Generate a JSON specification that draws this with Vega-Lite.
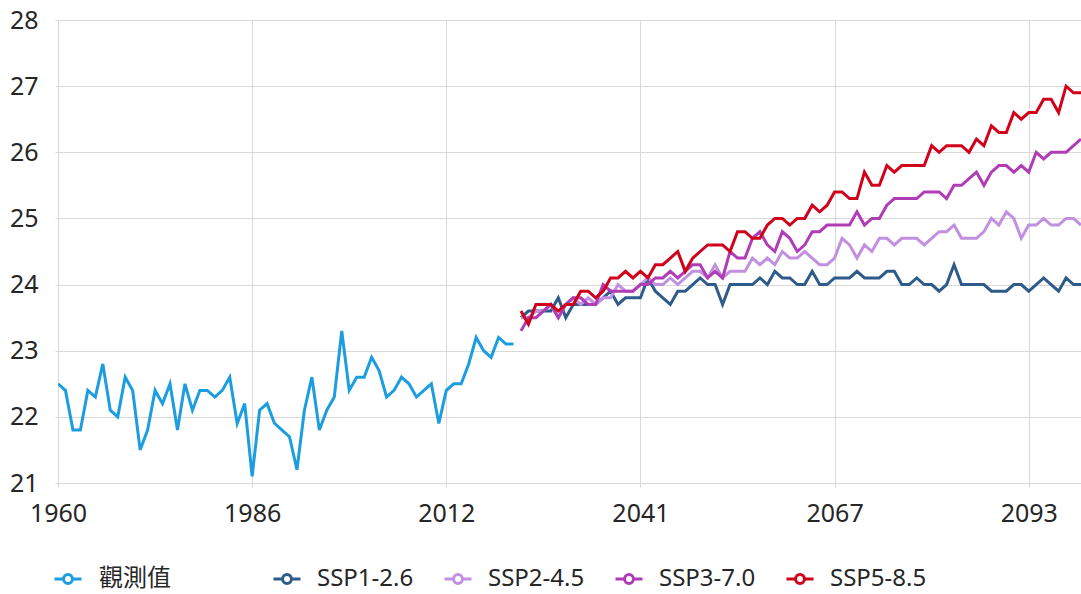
{
  "$schema": "https://vega.github.io/schema/vega-lite/v6.json",
  "autosize": "none",
  "padding": {"left": 58, "top": 20, "right": 0, "bottom": 111},
  "width": 1023,
  "height": 463,
  "background": "white",
  "config": {
    "view": {"stroke": null},
    "font": "Noto Sans, Noto Sans CJK TC",
    "axis": {
      "labelFont": "Noto Sans, Noto Sans CJK TC",
      "labelFontSize": 25,
      "labelColor": "#262626",
      "gridColor": "#d9d9d9",
      "domainColor": "#d9d9d9",
      "tickColor": "#d9d9d9",
      "title": null
    }
  },
  "datasets": {
    "obs": [
      {"year":1960,"series":"觀測值","value":22.5},{"year":1961,"series":"觀測值","value":22.4},{"year":1962,"series":"觀測值","value":21.8},{"year":1963,"series":"觀測值","value":21.8},{"year":1964,"series":"觀測值","value":22.4},{"year":1965,"series":"觀測值","value":22.3},{"year":1966,"series":"觀測值","value":22.8},{"year":1967,"series":"觀測值","value":22.1},{"year":1968,"series":"觀測值","value":22.0},{"year":1969,"series":"觀測值","value":22.6},
      {"year":1970,"series":"觀測值","value":22.4},{"year":1971,"series":"觀測值","value":21.5},{"year":1972,"series":"觀測值","value":21.8},{"year":1973,"series":"觀測值","value":22.4},{"year":1974,"series":"觀測值","value":22.2},{"year":1975,"series":"觀測值","value":22.5},{"year":1976,"series":"觀測值","value":21.8},{"year":1977,"series":"觀測值","value":22.5},{"year":1978,"series":"觀測值","value":22.1},{"year":1979,"series":"觀測值","value":22.4},
      {"year":1980,"series":"觀測值","value":22.4},{"year":1981,"series":"觀測值","value":22.3},{"year":1982,"series":"觀測值","value":22.4},{"year":1983,"series":"觀測值","value":22.6},{"year":1984,"series":"觀測值","value":21.9},{"year":1985,"series":"觀測值","value":22.2},{"year":1986,"series":"觀測值","value":21.1},{"year":1987,"series":"觀測值","value":22.1},{"year":1988,"series":"觀測值","value":22.2},{"year":1989,"series":"觀測值","value":21.9},
      {"year":1990,"series":"觀測值","value":21.8},{"year":1991,"series":"觀測值","value":21.7},{"year":1992,"series":"觀測值","value":21.2},{"year":1993,"series":"觀測值","value":22.1},{"year":1994,"series":"觀測值","value":22.6},{"year":1995,"series":"觀測值","value":21.8},{"year":1996,"series":"觀測值","value":22.1},{"year":1997,"series":"觀測值","value":22.3},{"year":1998,"series":"觀測值","value":23.3},{"year":1999,"series":"觀測值","value":22.4},
      {"year":2000,"series":"觀測值","value":22.6},{"year":2001,"series":"觀測值","value":22.6},{"year":2002,"series":"觀測值","value":22.9},{"year":2003,"series":"觀測值","value":22.7},{"year":2004,"series":"觀測值","value":22.3},{"year":2005,"series":"觀測值","value":22.4},{"year":2006,"series":"觀測值","value":22.6},{"year":2007,"series":"觀測值","value":22.5},{"year":2008,"series":"觀測值","value":22.3},{"year":2009,"series":"觀測值","value":22.4},
      {"year":2010,"series":"觀測值","value":22.5},{"year":2011,"series":"觀測值","value":21.9},{"year":2012,"series":"觀測值","value":22.4},{"year":2013,"series":"觀測值","value":22.5},{"year":2014,"series":"觀測值","value":22.5},{"year":2015,"series":"觀測值","value":22.8},{"year":2016,"series":"觀測值","value":23.2},{"year":2017,"series":"觀測值","value":23.0},{"year":2018,"series":"觀測值","value":22.9},{"year":2019,"series":"觀測值","value":23.2},
      {"year":2020,"series":"觀測值","value":23.1},{"year":2021,"series":"觀測值","value":23.1}
    ],
    "proj": [
      {"year":2025,"series":"SSP1-2.6","value":23.5},{"year":2026,"series":"SSP1-2.6","value":23.6},{"year":2027,"series":"SSP1-2.6","value":23.6},{"year":2028,"series":"SSP1-2.6","value":23.6},{"year":2029,"series":"SSP1-2.6","value":23.6},{"year":2030,"series":"SSP1-2.6","value":23.8},{"year":2031,"series":"SSP1-2.6","value":23.5},{"year":2032,"series":"SSP1-2.6","value":23.7},{"year":2033,"series":"SSP1-2.6","value":23.7},{"year":2034,"series":"SSP1-2.6","value":23.7},
      {"year":2035,"series":"SSP1-2.6","value":23.7},{"year":2036,"series":"SSP1-2.6","value":23.8},{"year":2037,"series":"SSP1-2.6","value":23.9},{"year":2038,"series":"SSP1-2.6","value":23.7},{"year":2039,"series":"SSP1-2.6","value":23.8},{"year":2040,"series":"SSP1-2.6","value":23.8},{"year":2041,"series":"SSP1-2.6","value":23.8},{"year":2042,"series":"SSP1-2.6","value":24.1},{"year":2043,"series":"SSP1-2.6","value":23.9},{"year":2044,"series":"SSP1-2.6","value":23.8},
      {"year":2045,"series":"SSP1-2.6","value":23.7},{"year":2046,"series":"SSP1-2.6","value":23.9},{"year":2047,"series":"SSP1-2.6","value":23.9},{"year":2048,"series":"SSP1-2.6","value":24.0},{"year":2049,"series":"SSP1-2.6","value":24.1},{"year":2050,"series":"SSP1-2.6","value":24.0},{"year":2051,"series":"SSP1-2.6","value":24.0},{"year":2052,"series":"SSP1-2.6","value":23.7},{"year":2053,"series":"SSP1-2.6","value":24.0},{"year":2054,"series":"SSP1-2.6","value":24.0},
      {"year":2055,"series":"SSP1-2.6","value":24.0},{"year":2056,"series":"SSP1-2.6","value":24.0},{"year":2057,"series":"SSP1-2.6","value":24.1},{"year":2058,"series":"SSP1-2.6","value":24.0},{"year":2059,"series":"SSP1-2.6","value":24.2},{"year":2060,"series":"SSP1-2.6","value":24.1},{"year":2061,"series":"SSP1-2.6","value":24.1},{"year":2062,"series":"SSP1-2.6","value":24.0},{"year":2063,"series":"SSP1-2.6","value":24.0},{"year":2064,"series":"SSP1-2.6","value":24.2},
      {"year":2065,"series":"SSP1-2.6","value":24.0},{"year":2066,"series":"SSP1-2.6","value":24.0},{"year":2067,"series":"SSP1-2.6","value":24.1},{"year":2068,"series":"SSP1-2.6","value":24.1},{"year":2069,"series":"SSP1-2.6","value":24.1},{"year":2070,"series":"SSP1-2.6","value":24.2},{"year":2071,"series":"SSP1-2.6","value":24.1},{"year":2072,"series":"SSP1-2.6","value":24.1},{"year":2073,"series":"SSP1-2.6","value":24.1},{"year":2074,"series":"SSP1-2.6","value":24.2},
      {"year":2075,"series":"SSP1-2.6","value":24.2},{"year":2076,"series":"SSP1-2.6","value":24.0},{"year":2077,"series":"SSP1-2.6","value":24.0},{"year":2078,"series":"SSP1-2.6","value":24.1},{"year":2079,"series":"SSP1-2.6","value":24.0},{"year":2080,"series":"SSP1-2.6","value":24.0},{"year":2081,"series":"SSP1-2.6","value":23.9},{"year":2082,"series":"SSP1-2.6","value":24.0},{"year":2083,"series":"SSP1-2.6","value":24.3},{"year":2084,"series":"SSP1-2.6","value":24.0},
      {"year":2085,"series":"SSP1-2.6","value":24.0},{"year":2086,"series":"SSP1-2.6","value":24.0},{"year":2087,"series":"SSP1-2.6","value":24.0},{"year":2088,"series":"SSP1-2.6","value":23.9},{"year":2089,"series":"SSP1-2.6","value":23.9},{"year":2090,"series":"SSP1-2.6","value":23.9},{"year":2091,"series":"SSP1-2.6","value":24.0},{"year":2092,"series":"SSP1-2.6","value":24.0},{"year":2093,"series":"SSP1-2.6","value":23.9},{"year":2094,"series":"SSP1-2.6","value":24.0},
      {"year":2095,"series":"SSP1-2.6","value":24.1},{"year":2096,"series":"SSP1-2.6","value":24.0},{"year":2097,"series":"SSP1-2.6","value":23.9},{"year":2098,"series":"SSP1-2.6","value":24.1},{"year":2099,"series":"SSP1-2.6","value":24.0},{"year":2100,"series":"SSP1-2.6","value":24.0},

      {"year":2025,"series":"SSP2-4.5","value":23.5},{"year":2026,"series":"SSP2-4.5","value":23.5},{"year":2027,"series":"SSP2-4.5","value":23.6},{"year":2028,"series":"SSP2-4.5","value":23.6},{"year":2029,"series":"SSP2-4.5","value":23.7},{"year":2030,"series":"SSP2-4.5","value":23.5},{"year":2031,"series":"SSP2-4.5","value":23.7},{"year":2032,"series":"SSP2-4.5","value":23.8},{"year":2033,"series":"SSP2-4.5","value":23.7},{"year":2034,"series":"SSP2-4.5","value":23.8},
      {"year":2035,"series":"SSP2-4.5","value":23.7},{"year":2036,"series":"SSP2-4.5","value":23.8},{"year":2037,"series":"SSP2-4.5","value":23.8},{"year":2038,"series":"SSP2-4.5","value":24.0},{"year":2039,"series":"SSP2-4.5","value":23.9},{"year":2040,"series":"SSP2-4.5","value":23.9},{"year":2041,"series":"SSP2-4.5","value":24.0},{"year":2042,"series":"SSP2-4.5","value":24.1},{"year":2043,"series":"SSP2-4.5","value":24.0},{"year":2044,"series":"SSP2-4.5","value":24.0},
      {"year":2045,"series":"SSP2-4.5","value":24.1},{"year":2046,"series":"SSP2-4.5","value":24.0},{"year":2047,"series":"SSP2-4.5","value":24.1},{"year":2048,"series":"SSP2-4.5","value":24.2},{"year":2049,"series":"SSP2-4.5","value":24.2},{"year":2050,"series":"SSP2-4.5","value":24.1},{"year":2051,"series":"SSP2-4.5","value":24.3},{"year":2052,"series":"SSP2-4.5","value":24.1},{"year":2053,"series":"SSP2-4.5","value":24.2},{"year":2054,"series":"SSP2-4.5","value":24.2},
      {"year":2055,"series":"SSP2-4.5","value":24.2},{"year":2056,"series":"SSP2-4.5","value":24.4},{"year":2057,"series":"SSP2-4.5","value":24.3},{"year":2058,"series":"SSP2-4.5","value":24.4},{"year":2059,"series":"SSP2-4.5","value":24.3},{"year":2060,"series":"SSP2-4.5","value":24.5},{"year":2061,"series":"SSP2-4.5","value":24.4},{"year":2062,"series":"SSP2-4.5","value":24.4},{"year":2063,"series":"SSP2-4.5","value":24.5},{"year":2064,"series":"SSP2-4.5","value":24.4},
      {"year":2065,"series":"SSP2-4.5","value":24.3},{"year":2066,"series":"SSP2-4.5","value":24.3},{"year":2067,"series":"SSP2-4.5","value":24.4},{"year":2068,"series":"SSP2-4.5","value":24.7},{"year":2069,"series":"SSP2-4.5","value":24.6},{"year":2070,"series":"SSP2-4.5","value":24.4},{"year":2071,"series":"SSP2-4.5","value":24.6},{"year":2072,"series":"SSP2-4.5","value":24.5},{"year":2073,"series":"SSP2-4.5","value":24.7},{"year":2074,"series":"SSP2-4.5","value":24.7},
      {"year":2075,"series":"SSP2-4.5","value":24.6},{"year":2076,"series":"SSP2-4.5","value":24.7},{"year":2077,"series":"SSP2-4.5","value":24.7},{"year":2078,"series":"SSP2-4.5","value":24.7},{"year":2079,"series":"SSP2-4.5","value":24.6},{"year":2080,"series":"SSP2-4.5","value":24.7},{"year":2081,"series":"SSP2-4.5","value":24.8},{"year":2082,"series":"SSP2-4.5","value":24.8},{"year":2083,"series":"SSP2-4.5","value":24.9},{"year":2084,"series":"SSP2-4.5","value":24.7},
      {"year":2085,"series":"SSP2-4.5","value":24.7},{"year":2086,"series":"SSP2-4.5","value":24.7},{"year":2087,"series":"SSP2-4.5","value":24.8},{"year":2088,"series":"SSP2-4.5","value":25.0},{"year":2089,"series":"SSP2-4.5","value":24.9},{"year":2090,"series":"SSP2-4.5","value":25.1},{"year":2091,"series":"SSP2-4.5","value":25.0},{"year":2092,"series":"SSP2-4.5","value":24.7},{"year":2093,"series":"SSP2-4.5","value":24.9},{"year":2094,"series":"SSP2-4.5","value":24.9},
      {"year":2095,"series":"SSP2-4.5","value":25.0},{"year":2096,"series":"SSP2-4.5","value":24.9},{"year":2097,"series":"SSP2-4.5","value":24.9},{"year":2098,"series":"SSP2-4.5","value":25.0},{"year":2099,"series":"SSP2-4.5","value":25.0},{"year":2100,"series":"SSP2-4.5","value":24.9},

      {"year":2025,"series":"SSP3-7.0","value":23.3},{"year":2026,"series":"SSP3-7.0","value":23.5},{"year":2027,"series":"SSP3-7.0","value":23.5},{"year":2028,"series":"SSP3-7.0","value":23.6},{"year":2029,"series":"SSP3-7.0","value":23.7},{"year":2030,"series":"SSP3-7.0","value":23.5},{"year":2031,"series":"SSP3-7.0","value":23.7},{"year":2032,"series":"SSP3-7.0","value":23.8},{"year":2033,"series":"SSP3-7.0","value":23.8},{"year":2034,"series":"SSP3-7.0","value":23.7},
      {"year":2035,"series":"SSP3-7.0","value":23.7},{"year":2036,"series":"SSP3-7.0","value":24.0},{"year":2037,"series":"SSP3-7.0","value":23.9},{"year":2038,"series":"SSP3-7.0","value":23.9},{"year":2039,"series":"SSP3-7.0","value":23.9},{"year":2040,"series":"SSP3-7.0","value":23.9},{"year":2041,"series":"SSP3-7.0","value":24.0},{"year":2042,"series":"SSP3-7.0","value":24.0},{"year":2043,"series":"SSP3-7.0","value":24.1},{"year":2044,"series":"SSP3-7.0","value":24.1},
      {"year":2045,"series":"SSP3-7.0","value":24.2},{"year":2046,"series":"SSP3-7.0","value":24.1},{"year":2047,"series":"SSP3-7.0","value":24.2},{"year":2048,"series":"SSP3-7.0","value":24.3},{"year":2049,"series":"SSP3-7.0","value":24.3},{"year":2050,"series":"SSP3-7.0","value":24.1},{"year":2051,"series":"SSP3-7.0","value":24.2},{"year":2052,"series":"SSP3-7.0","value":24.1},{"year":2053,"series":"SSP3-7.0","value":24.5},{"year":2054,"series":"SSP3-7.0","value":24.4},
      {"year":2055,"series":"SSP3-7.0","value":24.4},{"year":2056,"series":"SSP3-7.0","value":24.7},{"year":2057,"series":"SSP3-7.0","value":24.8},{"year":2058,"series":"SSP3-7.0","value":24.6},{"year":2059,"series":"SSP3-7.0","value":24.5},{"year":2060,"series":"SSP3-7.0","value":24.8},{"year":2061,"series":"SSP3-7.0","value":24.7},{"year":2062,"series":"SSP3-7.0","value":24.5},{"year":2063,"series":"SSP3-7.0","value":24.6},{"year":2064,"series":"SSP3-7.0","value":24.8},
      {"year":2065,"series":"SSP3-7.0","value":24.8},{"year":2066,"series":"SSP3-7.0","value":24.9},{"year":2067,"series":"SSP3-7.0","value":24.9},{"year":2068,"series":"SSP3-7.0","value":24.9},{"year":2069,"series":"SSP3-7.0","value":24.9},{"year":2070,"series":"SSP3-7.0","value":25.1},{"year":2071,"series":"SSP3-7.0","value":24.9},{"year":2072,"series":"SSP3-7.0","value":25.0},{"year":2073,"series":"SSP3-7.0","value":25.0},{"year":2074,"series":"SSP3-7.0","value":25.2},
      {"year":2075,"series":"SSP3-7.0","value":25.3},{"year":2076,"series":"SSP3-7.0","value":25.3},{"year":2077,"series":"SSP3-7.0","value":25.3},{"year":2078,"series":"SSP3-7.0","value":25.3},{"year":2079,"series":"SSP3-7.0","value":25.4},{"year":2080,"series":"SSP3-7.0","value":25.4},{"year":2081,"series":"SSP3-7.0","value":25.4},{"year":2082,"series":"SSP3-7.0","value":25.3},{"year":2083,"series":"SSP3-7.0","value":25.5},{"year":2084,"series":"SSP3-7.0","value":25.5},
      {"year":2085,"series":"SSP3-7.0","value":25.6},{"year":2086,"series":"SSP3-7.0","value":25.7},{"year":2087,"series":"SSP3-7.0","value":25.5},{"year":2088,"series":"SSP3-7.0","value":25.7},{"year":2089,"series":"SSP3-7.0","value":25.8},{"year":2090,"series":"SSP3-7.0","value":25.8},{"year":2091,"series":"SSP3-7.0","value":25.7},{"year":2092,"series":"SSP3-7.0","value":25.8},{"year":2093,"series":"SSP3-7.0","value":25.7},{"year":2094,"series":"SSP3-7.0","value":26.0},
      {"year":2095,"series":"SSP3-7.0","value":25.9},{"year":2096,"series":"SSP3-7.0","value":26.0},{"year":2097,"series":"SSP3-7.0","value":26.0},{"year":2098,"series":"SSP3-7.0","value":26.0},{"year":2099,"series":"SSP3-7.0","value":26.1},{"year":2100,"series":"SSP3-7.0","value":26.2},

      {"year":2025,"series":"SSP5-8.5","value":23.6},{"year":2026,"series":"SSP5-8.5","value":23.4},{"year":2027,"series":"SSP5-8.5","value":23.7},{"year":2028,"series":"SSP5-8.5","value":23.7},{"year":2029,"series":"SSP5-8.5","value":23.7},{"year":2030,"series":"SSP5-8.5","value":23.6},{"year":2031,"series":"SSP5-8.5","value":23.7},{"year":2032,"series":"SSP5-8.5","value":23.7},{"year":2033,"series":"SSP5-8.5","value":23.9},{"year":2034,"series":"SSP5-8.5","value":23.9},
      {"year":2035,"series":"SSP5-8.5","value":23.8},{"year":2036,"series":"SSP5-8.5","value":23.9},{"year":2037,"series":"SSP5-8.5","value":24.1},{"year":2038,"series":"SSP5-8.5","value":24.1},{"year":2039,"series":"SSP5-8.5","value":24.2},{"year":2040,"series":"SSP5-8.5","value":24.1},{"year":2041,"series":"SSP5-8.5","value":24.2},{"year":2042,"series":"SSP5-8.5","value":24.1},{"year":2043,"series":"SSP5-8.5","value":24.3},{"year":2044,"series":"SSP5-8.5","value":24.3},
      {"year":2045,"series":"SSP5-8.5","value":24.4},{"year":2046,"series":"SSP5-8.5","value":24.5},{"year":2047,"series":"SSP5-8.5","value":24.2},{"year":2048,"series":"SSP5-8.5","value":24.4},{"year":2049,"series":"SSP5-8.5","value":24.5},{"year":2050,"series":"SSP5-8.5","value":24.6},{"year":2051,"series":"SSP5-8.5","value":24.6},{"year":2052,"series":"SSP5-8.5","value":24.6},{"year":2053,"series":"SSP5-8.5","value":24.5},{"year":2054,"series":"SSP5-8.5","value":24.8},
      {"year":2055,"series":"SSP5-8.5","value":24.8},{"year":2056,"series":"SSP5-8.5","value":24.7},{"year":2057,"series":"SSP5-8.5","value":24.7},{"year":2058,"series":"SSP5-8.5","value":24.9},{"year":2059,"series":"SSP5-8.5","value":25.0},{"year":2060,"series":"SSP5-8.5","value":25.0},{"year":2061,"series":"SSP5-8.5","value":24.9},{"year":2062,"series":"SSP5-8.5","value":25.0},{"year":2063,"series":"SSP5-8.5","value":25.0},{"year":2064,"series":"SSP5-8.5","value":25.2},
      {"year":2065,"series":"SSP5-8.5","value":25.1},{"year":2066,"series":"SSP5-8.5","value":25.2},{"year":2067,"series":"SSP5-8.5","value":25.4},{"year":2068,"series":"SSP5-8.5","value":25.4},{"year":2069,"series":"SSP5-8.5","value":25.3},{"year":2070,"series":"SSP5-8.5","value":25.3},{"year":2071,"series":"SSP5-8.5","value":25.7},{"year":2072,"series":"SSP5-8.5","value":25.5},{"year":2073,"series":"SSP5-8.5","value":25.5},{"year":2074,"series":"SSP5-8.5","value":25.8},
      {"year":2075,"series":"SSP5-8.5","value":25.7},{"year":2076,"series":"SSP5-8.5","value":25.8},{"year":2077,"series":"SSP5-8.5","value":25.8},{"year":2078,"series":"SSP5-8.5","value":25.8},{"year":2079,"series":"SSP5-8.5","value":25.8},{"year":2080,"series":"SSP5-8.5","value":26.1},{"year":2081,"series":"SSP5-8.5","value":26.0},{"year":2082,"series":"SSP5-8.5","value":26.1},{"year":2083,"series":"SSP5-8.5","value":26.1},{"year":2084,"series":"SSP5-8.5","value":26.1},
      {"year":2085,"series":"SSP5-8.5","value":26.0},{"year":2086,"series":"SSP5-8.5","value":26.2},{"year":2087,"series":"SSP5-8.5","value":26.1},{"year":2088,"series":"SSP5-8.5","value":26.4},{"year":2089,"series":"SSP5-8.5","value":26.3},{"year":2090,"series":"SSP5-8.5","value":26.3},{"year":2091,"series":"SSP5-8.5","value":26.6},{"year":2092,"series":"SSP5-8.5","value":26.5},{"year":2093,"series":"SSP5-8.5","value":26.6},{"year":2094,"series":"SSP5-8.5","value":26.6},
      {"year":2095,"series":"SSP5-8.5","value":26.8},{"year":2096,"series":"SSP5-8.5","value":26.8},{"year":2097,"series":"SSP5-8.5","value":26.6},{"year":2098,"series":"SSP5-8.5","value":27.0},{"year":2099,"series":"SSP5-8.5","value":26.9},{"year":2100,"series":"SSP5-8.5","value":26.9}
    ]
  },
  "encoding": {
    "x": {
      "field": "year",
      "type": "ordinal",
      "scale": {"type": "point", "padding": 0},
      "axis": {
        "values": [1960, 1986, 2012, 2041, 2067, 2093],
        "labelAngle": 0,
        "grid": true,
        "ticks": true,
        "tickSize": 4,
        "labelPadding": 14
      }
    },
    "y": {
      "field": "value",
      "type": "quantitative",
      "scale": {"domain": [21, 28], "nice": false, "zero": false},
      "axis": {
        "values": [21, 22, 23, 24, 25, 26, 27, 28],
        "grid": true,
        "ticks": true,
        "tickSize": 3,
        "labelPadding": 17,
        "domain": true
      }
    }
  },
  "layer": [
    {
      "data": {"name": "obs"},
      "mark": {"type": "line", "strokeWidth": 3, "strokeJoin": "miter", "clip": true},
      "encoding": {
        "color": {
          "field": "series",
          "type": "nominal",
          "scale": {"domain": ["觀測值"], "range": ["#1b9ddf"]},
          "legend": {
            "orient": "none",
            "legendX": -5,
            "legendY": 544,
            "direction": "horizontal",
            "title": null,
            "symbolType": "M-1,0L-0.33,0M0.33,0L1,0M-0.33,0A0.33,0.33 0 1,1 0.33,0A0.33,0.33 0 1,1 -0.33,0Z",
            "symbolSize": 729,
            "symbolStrokeWidth": 3,
            "symbolFillColor": "white",
            "labelFont": "Noto Sans CJK TC",
            "labelFontSize": 24,
            "labelColor": "#262626",
            "labelOffset": 16,
            "encode": {"symbols": {"update": {"fill": {"value": "white"}, "strokeWidth": {"value": 3}}}}
          }
        }
      }
    },
    {
      "data": {"name": "proj"},
      "mark": {"type": "line", "strokeWidth": 3, "strokeJoin": "miter", "clip": true},
      "encoding": {
        "color": {
          "field": "series",
          "type": "nominal",
          "scale": {
            "domain": ["SSP1-2.6", "SSP2-4.5", "SSP3-7.0", "SSP5-8.5"],
            "range": ["#2e5b8a", "#c190e0", "#b03cb6", "#d0021b"]
          },
          "legend": {
            "orient": "none",
            "legendX": 214,
            "legendY": 544,
            "direction": "horizontal",
            "title": null,
            "symbolType": "M-1,0L-0.33,0M0.33,0L1,0M-0.33,0A0.33,0.33 0 1,1 0.33,0A0.33,0.33 0 1,1 -0.33,0Z",
            "symbolSize": 729,
            "symbolStrokeWidth": 3,
            "symbolFillColor": "white",
            "labelFont": "Noto Sans",
            "labelFontSize": 24,
            "labelColor": "#262626",
            "labelOffset": 15,
            "columnPadding": 24,
            "encode": {"symbols": {"update": {"fill": {"value": "white"}, "strokeWidth": {"value": 3}}}}
          }
        }
      }
    }
  ],
  "resolve": {"scale": {"color": "independent"}}
}
